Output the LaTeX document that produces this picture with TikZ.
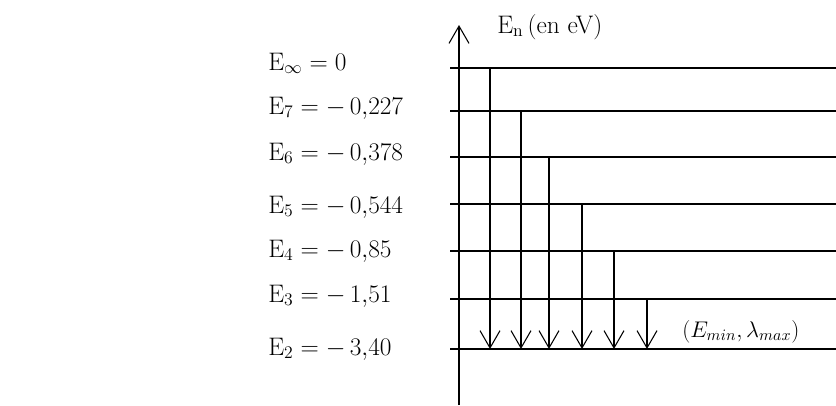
\RequirePackage{fix-cm}
\documentclass[tikz,border=0pt]{standalone}
\usepackage{fontspec}
\usetikzlibrary{arrows.meta}

\tikzset{
  level/.style={line width=0.8pt},
  jump/.style={line width=0.8pt,-{Straight Barb[length=13pt,width=15pt]}},
  lab/.style={anchor=base west,inner sep=0pt,font=\fontsize{19}{21}\selectfont},
}

\begin{document}
\begin{tikzpicture}[x=0.75pt,y=-0.75pt]
  \useasboundingbox (0,0) rectangle (836,405);
  % axis
  \coordinate (bas) at (459,405);
  \coordinate (haut) at (459,25);
  \draw[jump] (bas) -- (haut);
  \node[lab] (axe) at (497,33) {$\mathrm{E_n}\,$(en eV)};
  % levels
  \foreach \n/\y/\yb/\txt in {
      8/68/70/{$\mathrm{E}_\infty=0$},
      7/111/114/{$\mathrm{E}_7=-\,0{,}227$},
      6/157/160/{$\mathrm{E}_6=-\,0{,}378$},
      5/204/213/{$\mathrm{E}_5=-\,0{,}544$},
      4/251/257/{$\mathrm{E}_4=-\,0{,}85$},
      3/299/302/{$\mathrm{E}_3=-\,1{,}51$},
      2/349/355/{$\mathrm{E}_2=-\,3{,}40$}} {
    \coordinate (g\n) at (450,\y);
    \coordinate (d\n) at (836,\y);
    \draw[level] (g\n) -- (d\n);
    \node[lab] (E\n) at (268,\yb) {\txt};
  }
  % transitions to n=2
  \foreach \n/\x in {8/490,7/521,6/549,5/582,4/614,3/647} {
    \coordinate (t\n) at (\x,0);
    \draw[jump] (g\n -| t\n) -- (g2 -| t\n);
  }
  \node[lab,font=\fontsize{17}{19}\selectfont] (emin) at (682,337) {$(E_{min},\lambda_{max})$};
\end{tikzpicture}
\end{document}
